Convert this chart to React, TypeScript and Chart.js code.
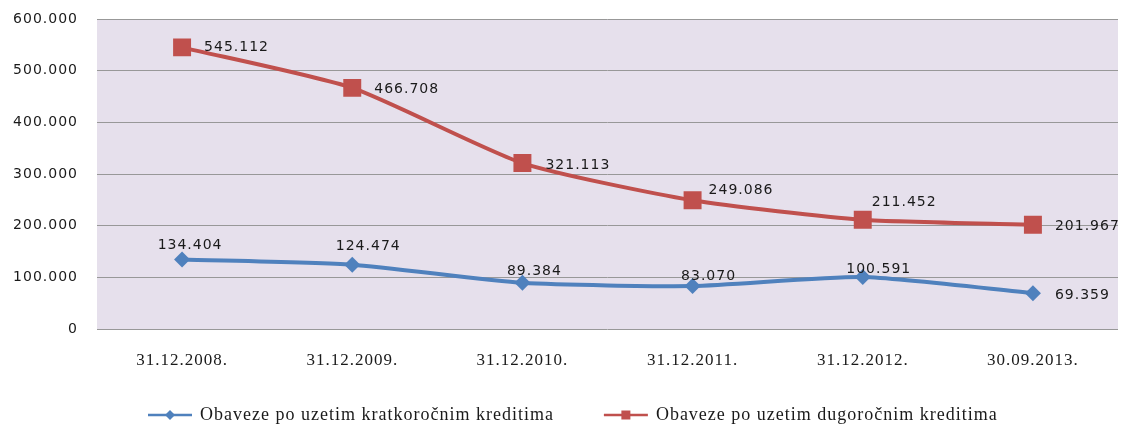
import React, { useEffect, useRef } from 'react';
import { Chart, registerables } from 'chart.js';

Chart.register(...registerables);

const categories = ['31.12.2008.', '31.12.2009.', '31.12.2010.', '31.12.2011.', '31.12.2012.', '30.09.2013.'];
const shortTermLoans = [134404, 124474, 89384, 83070, 100591, 69359];
const longTermLoans = [545112, 466708, 321113, 249086, 211452, 201967];
const seriesNames = ['Obaveze po uzetim kratkoročnim kreditima', 'Obaveze po uzetim dugoročnim kreditima'];
const yMin = 0;
const yMax = 600000;
const yStep = 100000;

// label placement: [dx, dy, align] relative to each point
const shortLabelPlacement: [number, number, CanvasTextAlign][] = [
  [8, -14, 'center'], [16, -18, 'center'], [12, -11, 'center'], [16, -10, 'center'], [16, -8, 'center'], [22, 2, 'left'],
];
const longLabelPlacement: [number, number, CanvasTextAlign][] = [
  [22, 0, 'left'], [22, 1, 'left'], [23, 2, 'left'], [16, -10, 'left'], [9, -17, 'left'], [22, 2, 'left'],
];

const BLUE = '#4F81BD';
const RED = '#C0504D';
const PLOT_BG = '#E6E0EC';
const SANS = '"DejaVu Sans", Verdana, sans-serif';
const SERIF = '"Liberation Serif", "Times New Roman", serif';

const fmt = (v: number) => String(Math.round(v)).replace(/\B(?=(\d{3})+(?!\d))/g, '.');

const spacingPlugin = {
  id: 'spacing',
  beforeLayout(chart: any) {
    (chart.ctx as any).letterSpacing = '1px';
  },
  beforeDraw(chart: any) {
    (chart.ctx as any).letterSpacing = '1px';
  },
};

const bgPlugin = {
  id: 'plotBg',
  beforeDraw(chart: any) {
    const { ctx, chartArea } = chart;
    ctx.save();
    ctx.fillStyle = PLOT_BG;
    ctx.fillRect(chartArea.left, chartArea.top, chartArea.right - chartArea.left, chartArea.bottom - chartArea.top);
    ctx.restore();
  },
};

const labelsPlugin = {
  id: 'pointLabels',
  afterDatasetsDraw(chart: any) {
    const { ctx } = chart;
    const placements = [shortLabelPlacement, longLabelPlacement];
    ctx.save();
    (ctx as any).letterSpacing = '1px';
    ctx.font = `14px ${SANS}`;
    ctx.fillStyle = '#1a1a1a';
    ctx.textBaseline = 'middle';
    chart.data.datasets.forEach((ds: any, di: number) => {
      const meta = chart.getDatasetMeta(di);
      meta.data.forEach((pt: any, i: number) => {
        const [dx, dy, align] = placements[di][i];
        ctx.textAlign = align;
        ctx.fillText(fmt(ds.data[i]), pt.x + dx, pt.y + dy);
      });
    });
    ctx.restore();
  },
};

const legendPlugin = {
  id: 'customLegend',
  afterDraw(chart: any) {
    const { ctx } = chart;
    ctx.save();
    (ctx as any).letterSpacing = '1px';
    ctx.font = `18px ${SERIF}`;
    ctx.textBaseline = 'middle';
    ctx.textAlign = 'left';
    const lineLen = 44;
    const textGap = 8;
    const itemGap = 50;
    const items = chart.data.datasets.map((ds: any) => ({
      ds,
      w: lineLen + textGap + ctx.measureText(ds.label).width,
    }));
    let x = 148;
    const y = 415;
    items.forEach((it: any) => {
      const color = it.ds.borderColor;
      ctx.strokeStyle = color;
      ctx.fillStyle = color;
      ctx.lineWidth = 2.5;
      ctx.beginPath();
      ctx.moveTo(x, y);
      ctx.lineTo(x + lineLen, y);
      ctx.stroke();
      const cx = x + lineLen / 2;
      ctx.beginPath();
      if (it.ds.pointStyle === 'rect') {
        ctx.rect(cx - 4.5, y - 4.5, 9, 9);
      } else {
        ctx.moveTo(cx, y - 5);
        ctx.lineTo(cx + 5, y);
        ctx.lineTo(cx, y + 5);
        ctx.lineTo(cx - 5, y);
        ctx.closePath();
      }
      ctx.fill();
      ctx.fillStyle = '#1a1a1a';
      ctx.fillText(it.ds.label, x + lineLen + textGap, y);
      x += it.w + itemGap;
    });
    ctx.restore();
  },
};

export default function App() {
  const canvasRef = useRef<HTMLCanvasElement | null>(null);

  useEffect(() => {
    document.body.style.margin = '0';
    const canvas = canvasRef.current;
    if (!canvas) return;
    const chart = new Chart(canvas, {
      type: 'line',
      data: {
        labels: categories,
        datasets: [
          {
            label: seriesNames[0],
            data: shortTermLoans,
            borderColor: BLUE,
            backgroundColor: BLUE,
            borderWidth: 4,
            pointStyle: 'rectRot',
            pointRadius: 8,
            pointHoverRadius: 8,
            pointBorderWidth: 0,
            tension: 0.2,
          },
          {
            label: seriesNames[1],
            data: longTermLoans,
            borderColor: RED,
            backgroundColor: RED,
            borderWidth: 4,
            pointStyle: 'rect',
            pointRadius: 12.7,
            pointHoverRadius: 12.7,
            pointBorderWidth: 0,
            tension: 0.2,
          },
        ],
      },
      options: {
        animation: false,
        responsive: false,
        devicePixelRatio: 1,
        layout: { autoPadding: false, padding: { top: 19, right: 7, left: 0, bottom: 0 } },
        plugins: {
          legend: { display: false },
          tooltip: { enabled: false },
        },
        scales: {
          x: {
            offset: true,
            grid: { display: false, drawTicks: false },
            border: { display: false },
            ticks: {
              color: '#1a1a1a',
              font: { family: SERIF, size: 17 },
              padding: 21,
              maxRotation: 0,
              autoSkip: false,
            },
            afterFit: (scale: any) => {
              scale.height = 99;
            },
          },
          y: {
            min: yMin,
            max: yMax,
            grid: { color: '#989898', lineWidth: 1, drawTicks: false },
            border: { display: false },
            ticks: {
              stepSize: yStep,
              color: '#1a1a1a',
              font: { family: SANS, size: 14 },
              padding: 19,
              callback: (v: any) => fmt(Number(v)),
            },
            afterFit: (scale: any) => {
              scale.width = 97;
              scale.paddingTop = 0;
              scale.paddingBottom = 0;
            },
          },
        },
      },
      plugins: [spacingPlugin, bgPlugin, labelsPlugin, legendPlugin],
    });
    return () => chart.destroy();
  }, []);

  return (
    <div style={{ width: 1125, height: 428, background: '#fff' }}>
      <canvas ref={canvasRef} width={1125} height={428} style={{ display: 'block' }} />
    </div>
  );
}
